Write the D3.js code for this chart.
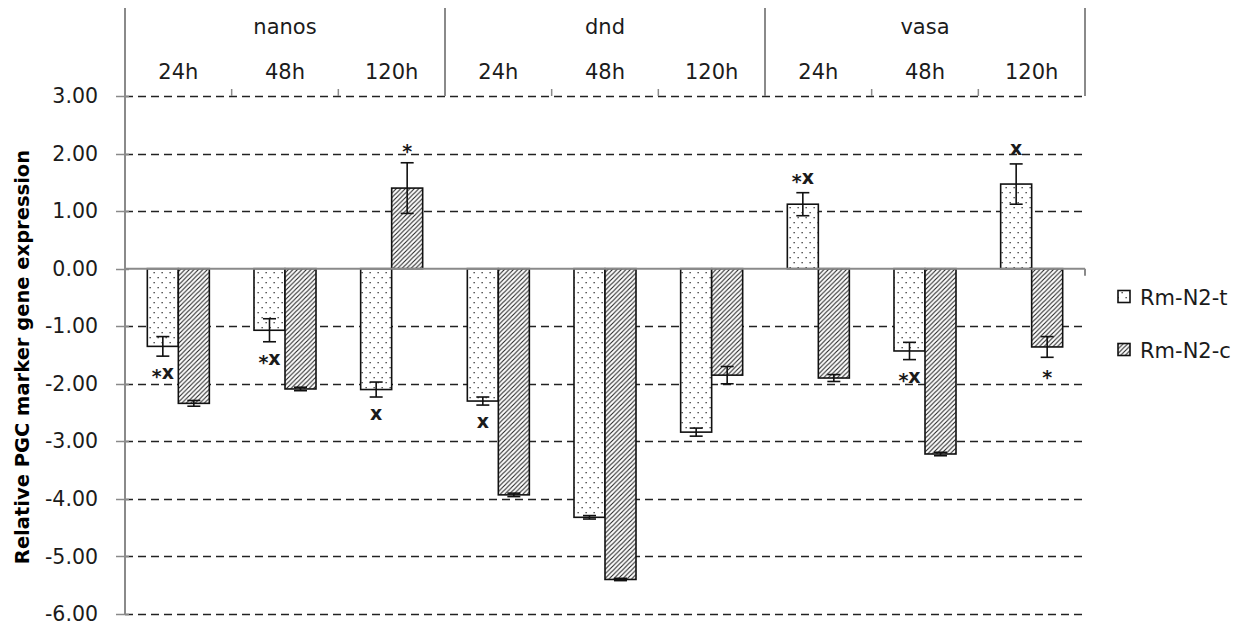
<!DOCTYPE html>
<html>
<head>
<meta charset="utf-8">
<script src="https://cdn.jsdelivr.net/npm/d3@7"></script>
<style>
  html, body { margin: 0; padding: 0; background: #fff; }
  svg { display: block; }
</style>
</head>
<body>
<svg id="chart" width="1251" height="630"></svg>
<script>
// Marker genes and sampling times
const genes = ["nanos", "dnd", "vasa"];
const times = ["24h", "48h", "120h"];
const seriesNames = ["Rm-N2-t", "Rm-N2-c"];

// Relative expression per gene/time (nanos 24h..120h, dnd ..., vasa ...)
const valuesT = [-1.35, -1.07, -2.10, -2.30, -4.32, -2.84, 1.12, -1.43, 1.47];
const valuesC = [-2.34, -2.09, 1.40, -3.93, -5.40, -1.85, -1.90, -3.22, -1.36];
const errorsT = [0.17, 0.20, 0.13, 0.07, 0.03, 0.07, 0.20, 0.15, 0.35];
const errorsC = [0.05, 0.03, 0.44, 0.03, 0.02, 0.15, 0.06, 0.03, 0.18];

// Significance marks: category index, series index, text, side of the error bar
const marks = [
  [0, 0, "*x", "below"],
  [1, 0, "*x", "below"],
  [2, 0, "x", "below"],
  [2, 1, "*", "above"],
  [3, 0, "x", "below"],
  [6, 0, "*x", "above"],
  [7, 0, "*x", "below"],
  [8, 0, "x", "above"],
  [8, 1, "*", "below"]
];

const yTicks = [3, 2, 1, 0, -1, -2, -3, -4, -5, -6];
const yTitle = "Relative PGC marker gene expression";

// Build category rows
const categories = [];
genes.forEach(g => times.forEach(t => categories.push({ gene: g, time: t, key: g + "|" + t })));
const seriesValues = [valuesT, valuesC];
const seriesErrors = [errorsT, errorsC];

const svg = d3.select("#chart");
const plotLeft = 125, plotRight = 1085, plotTop = 96, plotBottom = 614;
const font = "'DejaVu Sans', Verdana, sans-serif";
const axisGray = "#8a8a8a";
const ink = "#1b1b1b";

const y = d3.scaleLinear().domain([-6, 3]).range([plotBottom, plotTop]);
const x = d3.scaleBand().domain(categories.map(d => d.key)).range([plotLeft, plotRight]).padding(0);
const xs = d3.scaleBand().domain([0, 1]).range([0, x.bandwidth()]).paddingInner(0).paddingOuter(0.72);

// Fill patterns
const defs = svg.append("defs");
const dots = defs.append("pattern").attr("id", "dots").attr("patternUnits", "userSpaceOnUse")
  .attr("width", 8).attr("height", 10);
dots.append("rect").attr("width", 8).attr("height", 10).attr("fill", "#fff");
[[1.5, 2], [5.5, 7]].forEach(p => dots.append("rect").attr("x", p[0]).attr("y", p[1])
  .attr("width", 1.3).attr("height", 1.3).attr("fill", "#333"));

const hatch = defs.append("pattern").attr("id", "hatch").attr("patternUnits", "userSpaceOnUse")
  .attr("width", 4.5).attr("height", 4.5);
hatch.append("rect").attr("width", 4.5).attr("height", 4.5).attr("fill", "#fff");
hatch.append("path").attr("d", "M-1,1 L1,-1 M0,4.5 L4.5,0 M3.5,5.5 L5.5,3.5")
  .attr("stroke", "#222").attr("stroke-width", 1.1);

const fills = ["url(#dots)", "url(#hatch)"];

// Dashed gridlines
svg.append("g").selectAll("line").data(yTicks.filter(v => v !== 0)).join("line")
  .attr("x1", plotLeft).attr("x2", plotRight)
  .attr("y1", d => Math.round(y(d)) + 0.5).attr("y2", d => Math.round(y(d)) + 0.5)
  .attr("stroke", "#222").attr("stroke-width", 1.5).attr("stroke-dasharray", "8,5");

// Y axis
const yAxis = d3.axisLeft(y).tickValues(yTicks).tickFormat(d3.format(".2f")).tickSize(0).tickPadding(27);
const gy = svg.append("g").attr("transform", `translate(${plotLeft},0)`).call(yAxis);
gy.select(".domain").remove();
gy.selectAll("text").attr("font-family", font).attr("font-size", 20.5).attr("fill", ink)
  .text(d => d3.format(".2f")(d).replace("−", "-"));
svg.append("line").attr("x1", plotLeft).attr("x2", plotLeft).attr("y1", 8).attr("y2", plotBottom + 1)
  .attr("stroke", axisGray).attr("stroke-width", 2);
svg.append("g").selectAll("line").data(yTicks).join("line")
  .attr("x1", plotLeft - 9).attr("x2", plotLeft + 4)
  .attr("y1", d => Math.round(y(d)) + 0.5).attr("y2", d => Math.round(y(d)) + 0.5)
  .attr("stroke", axisGray).attr("stroke-width", 1.5);

// Bars
const barData = [];
categories.forEach((c, i) => seriesNames.forEach((s, j) => barData.push({
  key: c.key, s: j, v: seriesValues[j][i], e: seriesErrors[j][i]
})));
svg.append("g").selectAll("rect").data(barData).join("rect")
  .attr("x", d => x(d.key) + xs(d.s))
  .attr("width", xs.bandwidth())
  .attr("y", d => Math.min(y(d.v), y(0)))
  .attr("height", d => Math.abs(y(d.v) - y(0)))
  .attr("fill", d => fills[d.s])
  .attr("stroke", "#111").attr("stroke-width", 1.6);

// Error bars
const eb = svg.append("g").attr("stroke", "#111").attr("stroke-width", 1.6);
barData.forEach(d => {
  const cx = x(d.key) + xs(d.s) + xs.bandwidth() / 2;
  const y1 = y(d.v + d.e), y2 = y(d.v - d.e);
  eb.append("line").attr("x1", cx).attr("x2", cx).attr("y1", y1).attr("y2", y2);
  [y1, y2].forEach(yy => eb.append("line").attr("x1", cx - 6.5).attr("x2", cx + 6.5).attr("y1", yy).attr("y2", yy));
});

// Zero axis line with end tick
svg.append("line").attr("x1", plotLeft).attr("x2", plotRight).attr("y1", y(0)).attr("y2", y(0))
  .attr("stroke", axisGray).attr("stroke-width", 2);
svg.append("line").attr("x1", plotRight).attr("x2", plotRight).attr("y1", y(0)).attr("y2", y(0) + 7)
  .attr("stroke", axisGray).attr("stroke-width", 2);

// Significance marks; the asterisk is dropped to sit level with the "x"
const markText = svg.append("g").selectAll("text").data(marks).join("text")
  .attr("x", d => x(categories[d[0]].key) + xs(d[1]) + xs.bandwidth() / 2)
  .attr("y", d => {
    const v = seriesValues[d[1]][d[0]], e = seriesErrors[d[1]][d[0]];
    return d[3] === "above" ? y(v + e) - 9 : y(v - e) + 23;
  })
  .attr("text-anchor", "middle")
  .attr("font-family", font).attr("font-weight", "bold").attr("font-size", 19)
  .attr("fill", ink);
markText.each(function(d) {
  const t = d3.select(this);
  const chars = d[2].split("");
  chars.forEach((ch, k) => {
    const sp = t.append("tspan").text(ch);
    if (ch === "*") sp.attr("dy", 4);
    else if (k > 0 && chars[k - 1] === "*") sp.attr("dy", -4);
  });
});

// Header: gene groups and time labels
const groupEdges = genes.map((g, i) => x(categories[i * 3 + 2].key) + x.bandwidth());
svg.append("g").selectAll("line").data(groupEdges).join("line")
  .attr("x1", d => d).attr("x2", d => d).attr("y1", 8).attr("y2", plotTop)
  .attr("stroke", axisGray).attr("stroke-width", 2);
const innerEdges = categories.map(c => x(c.key)).filter((v, i) => i % 3 !== 0);
svg.append("g").selectAll("line").data(innerEdges).join("line")
  .attr("x1", d => d).attr("x2", d => d).attr("y1", plotTop - 7).attr("y2", plotTop)
  .attr("stroke", axisGray).attr("stroke-width", 1.5);

svg.append("g").selectAll("text").data(categories).join("text")
  .attr("x", d => x(d.key) + x.bandwidth() / 2).attr("y", 79)
  .attr("text-anchor", "middle").attr("font-family", font).attr("font-size", 21).attr("fill", ink)
  .text(d => d.time);
svg.append("g").selectAll("text").data(genes).join("text")
  .attr("x", (g, i) => (x(categories[i * 3].key) + groupEdges[i]) / 2).attr("y", 34)
  .attr("text-anchor", "middle").attr("font-family", font).attr("font-size", 21).attr("fill", ink)
  .text(d => d);

// Y axis title
svg.append("text")
  .attr("transform", `translate(29,357) rotate(-90)`)
  .attr("text-anchor", "middle").attr("font-family", font).attr("font-weight", "bold")
  .attr("font-size", 19.5).attr("fill", "#000")
  .text(yTitle);

// Legend
const lg = svg.append("g");
seriesNames.forEach((s, j) => {
  const ly = 297 + j * 53;
  lg.append("rect").attr("x", 1118).attr("y", ly - 6.5).attr("width", 12).attr("height", 12)
    .attr("fill", fills[j]).attr("stroke", "#111").attr("stroke-width", 1.6);
  lg.append("text").attr("x", 1140).attr("y", ly + 8)
    .attr("font-family", font).attr("font-size", 21).attr("fill", ink).text(s);
});
</script>
</body>
</html>
